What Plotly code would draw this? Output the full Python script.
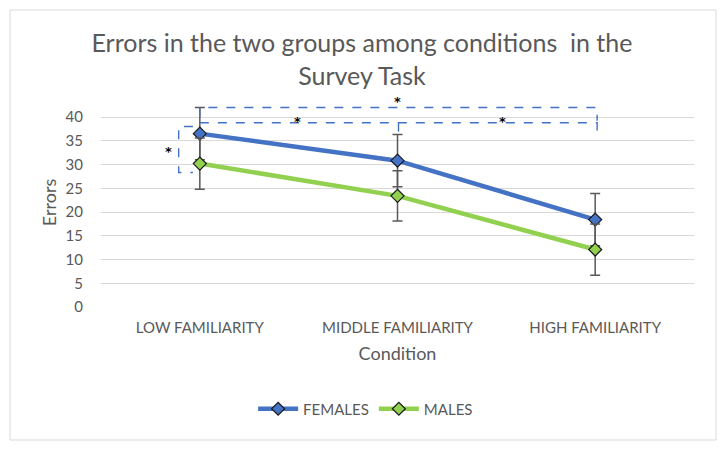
import plotly.graph_objects as go

# ---- data ----
conditions = ["LOW FAMILIARITY", "MIDDLE FAMILIARITY", "HIGH FAMILIARITY"]
females = [36.5, 30.8, 18.4]
females_err = [5.5, 5.5, 5.5]
males = [30.2, 23.4, 12.1]
males_err = [5.4, 5.3, 5.4]
y_ticks = [0, 5, 10, 15, 20, 25, 30, 35, 40]

W, H = 724, 451
ML, MR, MT, MB = 101, 30, 98, 144
PW, PH = W - ML - MR, H - MT - MB

BLUE = "#4472C4"
GREEN = "#92D050"
GREY = "#595959"
FONT = "Lato"

fig = go.Figure()
for name, vals, errs, col in [("FEMALES", females, females_err, BLUE),
                              ("MALES", males, males_err, GREEN)]:
    fig.add_trace(go.Scatter(
        x=conditions, y=vals, name=name, mode="lines+markers",
        line=dict(color=col, width=4.5),
        marker=dict(symbol="diamond", size=10, color=col,
                    line=dict(color="#1a1a1a", width=1.2)),
        error_y=dict(type="data", array=errs, visible=True,
                     color=GREY, thickness=1.5, width=5),
    ))

dash = dict(color=BLUE, width=1.4, dash="dash")
shapes = [
    # outer bracket LOW-HIGH
    dict(type="path", xref="x", yref="y", line=dash,
         path="M 0,40 L 0,42 L 2.01,42 L 2.01,39.2"),
    # inner bracket LOW-MIDDLE-HIGH
    dict(type="path", xref="x", yref="y", line=dash,
         path="M 0,38.8 L 2.01,38.8 L 2.01,35.3"),
    dict(type="path", xref="x", yref="y", line=dash,
         path="M 1.005,38.8 L 1.005,36.3"),
    # small bracket females vs males at LOW
    dict(type="path", xref="x", yref="y", line=dash,
         path="M -0.035,38 L -0.107,38 L -0.107,28.3 L -0.035,28.3"),
    # chart border
    dict(type="rect", xref="paper", yref="paper",
         x0=(10 - ML) / PW, x1=(716 - ML) / PW,
         y0=(H - MB - 440) / PH, y1=(H - MB - 10) / PH,
         line=dict(color="#D9D9D9", width=1)),
]

star = dict(text="<b>*</b>", showarrow=False,
            font=dict(family="DejaVu Sans", size=13, color="black"),
            xref="x", yref="y")
annotations = [
    dict(star, x=1.0, y=43.3),
    dict(star, x=0.496, y=39.0),
    dict(star, x=1.53, y=39.0),
    dict(star, x=-0.16, y=32.7),
]

fig.update_layout(
    width=W, height=H,
    margin=dict(l=ML, r=MR, t=MT, b=MB),
    paper_bgcolor="white", plot_bgcolor="white",
    font=dict(family=FONT, color=GREY),
    title=dict(text="Errors in the two groups among conditions  in the<br>Survey Task",
               x=0.5, xref="container", xanchor="center",
               y=1 - 52 / H, yref="container", yanchor="middle",
               font=dict(family=FONT, size=25, color=GREY)),
    xaxis=dict(type="category", range=[-0.5, 2.5], showgrid=False, zeroline=False,
               showline=False, ticks="", tickfont=dict(size=15, color=GREY),
               ticklabelstandoff=10,
               title=dict(text="Condition", font=dict(size=18, color=GREY), standoff=12)),
    yaxis=dict(range=[0, 44], tickvals=y_ticks, showgrid=True, gridcolor="#D9D9D9",
               gridwidth=1, zeroline=False, showline=False, ticks="",
               tickfont=dict(size=15, color=GREY), ticklabelstandoff=17,
               title=dict(text="Errors", font=dict(size=18, color=GREY), standoff=4)),
    legend=dict(orientation="h", xref="container", x=0.505, xanchor="center",
                yref="container", y=1 - 409 / H, yanchor="middle",
                font=dict(size=15, color=GREY), itemwidth=40, traceorder="normal"),
    shapes=shapes, annotations=annotations, showlegend=True,
)

fig.write_html("out.html", config={"displayModeBar": False},
               post_script="document.body.style.margin='0';")
